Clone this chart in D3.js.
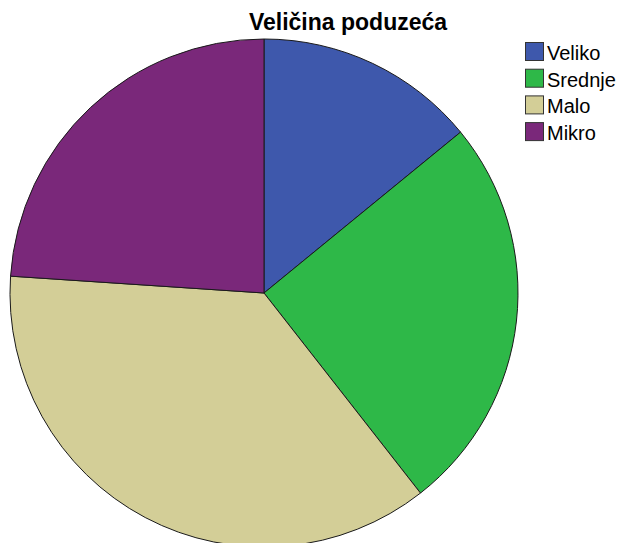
<!DOCTYPE html>
<html lang="hr">
<head>
<meta charset="UTF-8">
<title>Veličina poduzeća</title>
<style>
  body { margin: 0; background: #fff; font-family: Arial, 'Liberation Sans', sans-serif; }
  svg { display: block; }
</style>
</head>
<body>
<div id="chart"></div>
<script src="https://cdnjs.cloudflare.com/ajax/libs/d3/7.8.5/d3.min.js"></script>
<script>
  const categories = ['Veliko', 'Srednje', 'Malo', 'Mikro'];
  const counts = [10, 18, 26, 17];
  const colors = ['#3e58ac', '#2eb848', '#d3ce97', '#7a287a'];

  const width = 624, height = 543;
  const cx = 264, cy = 293, radius = 254;

  const svg = d3.select('#chart').append('svg')
    .attr('width', width)
    .attr('height', height);

  const data = categories.map((c, i) => ({ key: c, value: counts[i] }));

  const pie = d3.pie().value(d => d.value).sort(null);
  const arc = d3.arc().innerRadius(0).outerRadius(radius);
  const color = d3.scaleOrdinal().domain(categories).range(colors);

  // kriške
  svg.append('g')
    .attr('transform', 'translate(' + cx + ',' + cy + ')')
    .selectAll('path')
    .data(pie(data))
    .enter().append('path')
    .attr('d', arc)
    .attr('fill', d => color(d.data.key))
    .attr('stroke', '#1a1a1a')
    .attr('stroke-width', 1);

  // naslov
  svg.append('text')
    .attr('x', 348)
    .attr('y', 30)
    .attr('text-anchor', 'middle')
    .attr('font-size', 23)
    .attr('font-weight', 'bold')
    .attr('fill', '#000')
    .text('Veličina poduzeća');

  // legenda
  const legend = svg.append('g')
    .attr('transform', 'translate(525,42)');

  const item = legend.selectAll('g')
    .data(categories)
    .enter().append('g')
    .attr('transform', (d, i) => 'translate(0,' + (i * 26.7) + ')');

  item.append('rect')
    .attr('x', 0.5).attr('y', 0.5)
    .attr('width', 18).attr('height', 18)
    .attr('fill', d => color(d))
    .attr('stroke', '#333')
    .attr('stroke-width', 1);

  item.append('text')
    .attr('x', 22)
    .attr('y', 18)
    .attr('font-size', 20)
    .attr('fill', '#000')
    .text(d => d);
</script>
</body>
</html>
